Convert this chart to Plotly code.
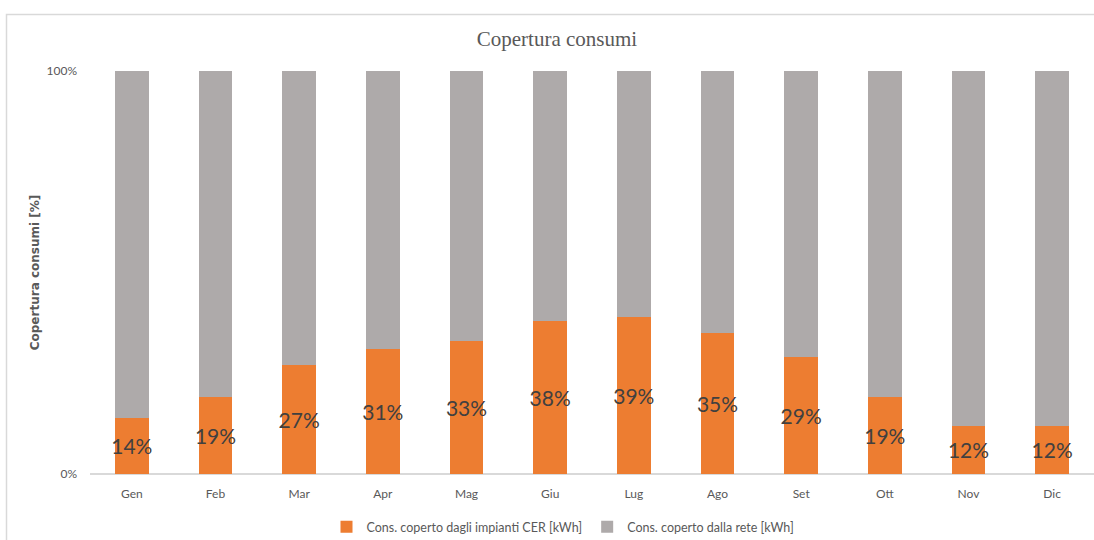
import plotly.graph_objects as go

# Monthly coverage of consumption (share covered by CER plants vs grid)
months = ["Gen", "Feb", "Mar", "Apr", "Mag", "Giu", "Lug", "Ago", "Set", "Ott", "Nov", "Dic"]
cer_share = [14, 19, 27, 31, 33, 38, 39, 35, 29, 19, 12, 12]
grid_share = [100 - v for v in cer_share]

ORANGE = "#ED7D31"
GREY = "#AEAAAA"
TEXT = "#595959"
LINE = "#D9D9D9"
SANS = "Lato, 'Open Sans', sans-serif"

fig = go.Figure()
fig.add_trace(go.Bar(
    x=months,
    y=[v / 100 for v in cer_share],
    name="Cons. coperto dagli impianti CER [kWh]",
    marker=dict(color=ORANGE, line=dict(width=0)),
    text=[f"{v}%" for v in cer_share],
    textposition="inside",
    insidetextanchor="middle",
    textangle=0,
    constraintext="none",
    textfont=dict(family=SANS, size=21, color="#404040"),
    hoverinfo="skip",
))
fig.add_trace(go.Bar(
    x=months,
    y=[v / 100 for v in grid_share],
    name="Cons. coperto dalla rete [kWh]",
    marker=dict(color=GREY, line=dict(width=0)),
    hoverinfo="skip",
))

# Plot-area geometry in pixels
L, R, T, B = 90, 0, 71, 66
W, H = 1094, 540
pw, ph = W - L - R, H - T - B


def px_x(p):
    return (p - L) / pw


def px_y(p):
    return (H - B - p) / ph


# Outer chart frame
fig.add_shape(
    type="rect", xref="paper", yref="paper",
    x0=px_x(6.5), x1=px_x(1110), y0=px_y(14.5), y1=px_y(560),
    line=dict(color=LINE, width=1.5), fillcolor="rgba(0,0,0,0)", layer="below",
)

fig.update_layout(
    width=W, height=H,
    margin=dict(l=L, r=R, t=T, b=B, autoexpand=False),
    barmode="stack",
    bargap=0.6,
    paper_bgcolor="white",
    plot_bgcolor="white",
    font=dict(family=SANS, size=12, color=TEXT),
    title=dict(
        text="Copertura consumi",
        font=dict(family="'Liberation Serif', 'DejaVu Serif', serif", size=21, color=TEXT),
        x=px_x(557), xref="paper", xanchor="center",
        y=1 - 39 / H, yref="container", yanchor="middle",
    ),
    legend=dict(
        orientation="h",
        x=px_x(563), xanchor="center",
        y=px_y(527), yanchor="middle",
        font=dict(family=SANS, size=12.5, color=TEXT),
        traceorder="normal",
    ),
    showlegend=True,
)

fig.update_xaxes(
    showgrid=False,
    showline=False,
    ticks="",
    automargin=False,
    tickfont=dict(family=SANS, size=12, color=TEXT),
    ticklabelstandoff=11,
)
fig.update_yaxes(
    range=[0, 1],
    tickvals=[0, 1],
    tickformat=".0%",
    showgrid=True,
    gridcolor=LINE,
    gridwidth=1.5,
    zeroline=True,
    zerolinecolor=LINE,
    zerolinewidth=1.5,
    showline=False,
    ticks="",
    automargin=False,
    ticklabelstandoff=12,
    tickfont=dict(family=SANS, size=12, color=TEXT),
    title=dict(
        text="Copertura consumi [%]",
        font=dict(family="'DejaVu Sans', sans-serif", size=12, color=TEXT, weight="bold"),
        standoff=4,
    ),
)

fig.write_html("out.html")
